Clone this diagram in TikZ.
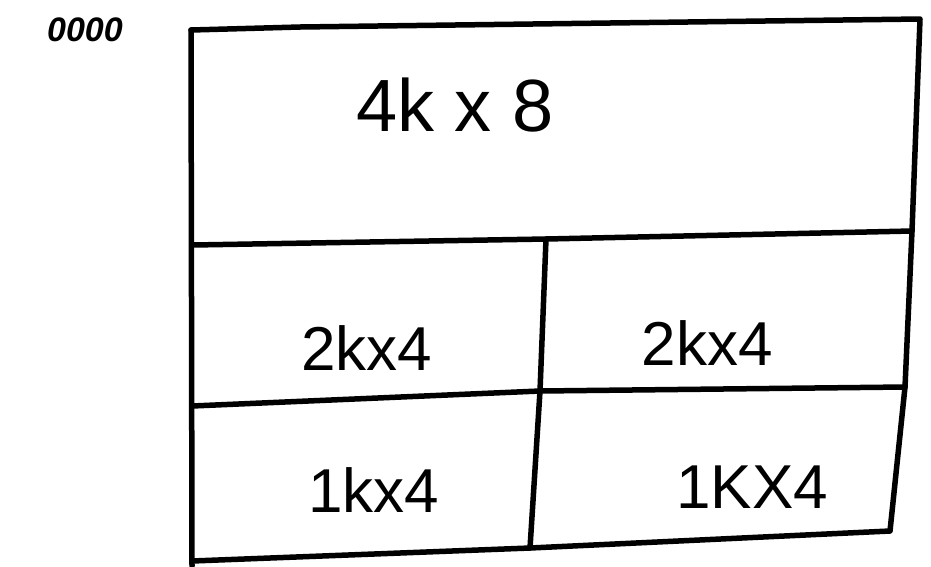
\documentclass[tikz,border=0pt]{standalone}
\usepackage{fontspec}
\setmainfont{Liberation Sans}
\begin{document}
\begin{tikzpicture}[x=1pt,y=-1pt,
  wall/.style={line width=5.5pt,line join=round,line cap=round,black},
  big/.style={font=\fontsize{74}{74}\selectfont},
  mid/.style={font=\fontsize{62}{62}\selectfont},
  addr/.style={font=\fontsize{34}{34}\selectfont\bfseries\itshape}]
\useasboundingbox[fill=white] (0,0) rectangle (931,566);
% corner points
\coordinate (TL) at (191,30);
\coordinate (TR) at (920,19);
\coordinate (L1) at (193,245);
\coordinate (M1) at (546,239);
\coordinate (R1) at (912,231);
\coordinate (L2) at (192,406);
\coordinate (M2) at (540,391);
\coordinate (R2) at (905,387);
\coordinate (LB) at (192,561);
\coordinate (MB) at (530,548);
\coordinate (RB) at (890,531);
\coordinate (LE) at (192,566);
% outline
\draw[wall] (TL) -- (300,27) -- (TR) -- (R1) -- (R2) -- (RB) -- (MB) -- (LB);
\draw[wall] (TL) -- (LE);
\draw[wall] (L1) -- (M1) -- (R1);
\draw[wall] (L2) -- (M2) -- (R2);
\draw[wall] (M1) -- (M2) -- (MB);
% labels
\node[addr] (a0) at (85,30) {0000};
\node[big] (t1) at (455,105) {4k x 8};
\node[mid] (t2) at (367,348) {2kx4};
\node[mid] (t3) at (707,343) {2kx4};
\node[mid] (t4) at (374,490) {1kx4};
\node[mid] (t5) at (752,487) {1KX4};
\end{tikzpicture}
\end{document}
